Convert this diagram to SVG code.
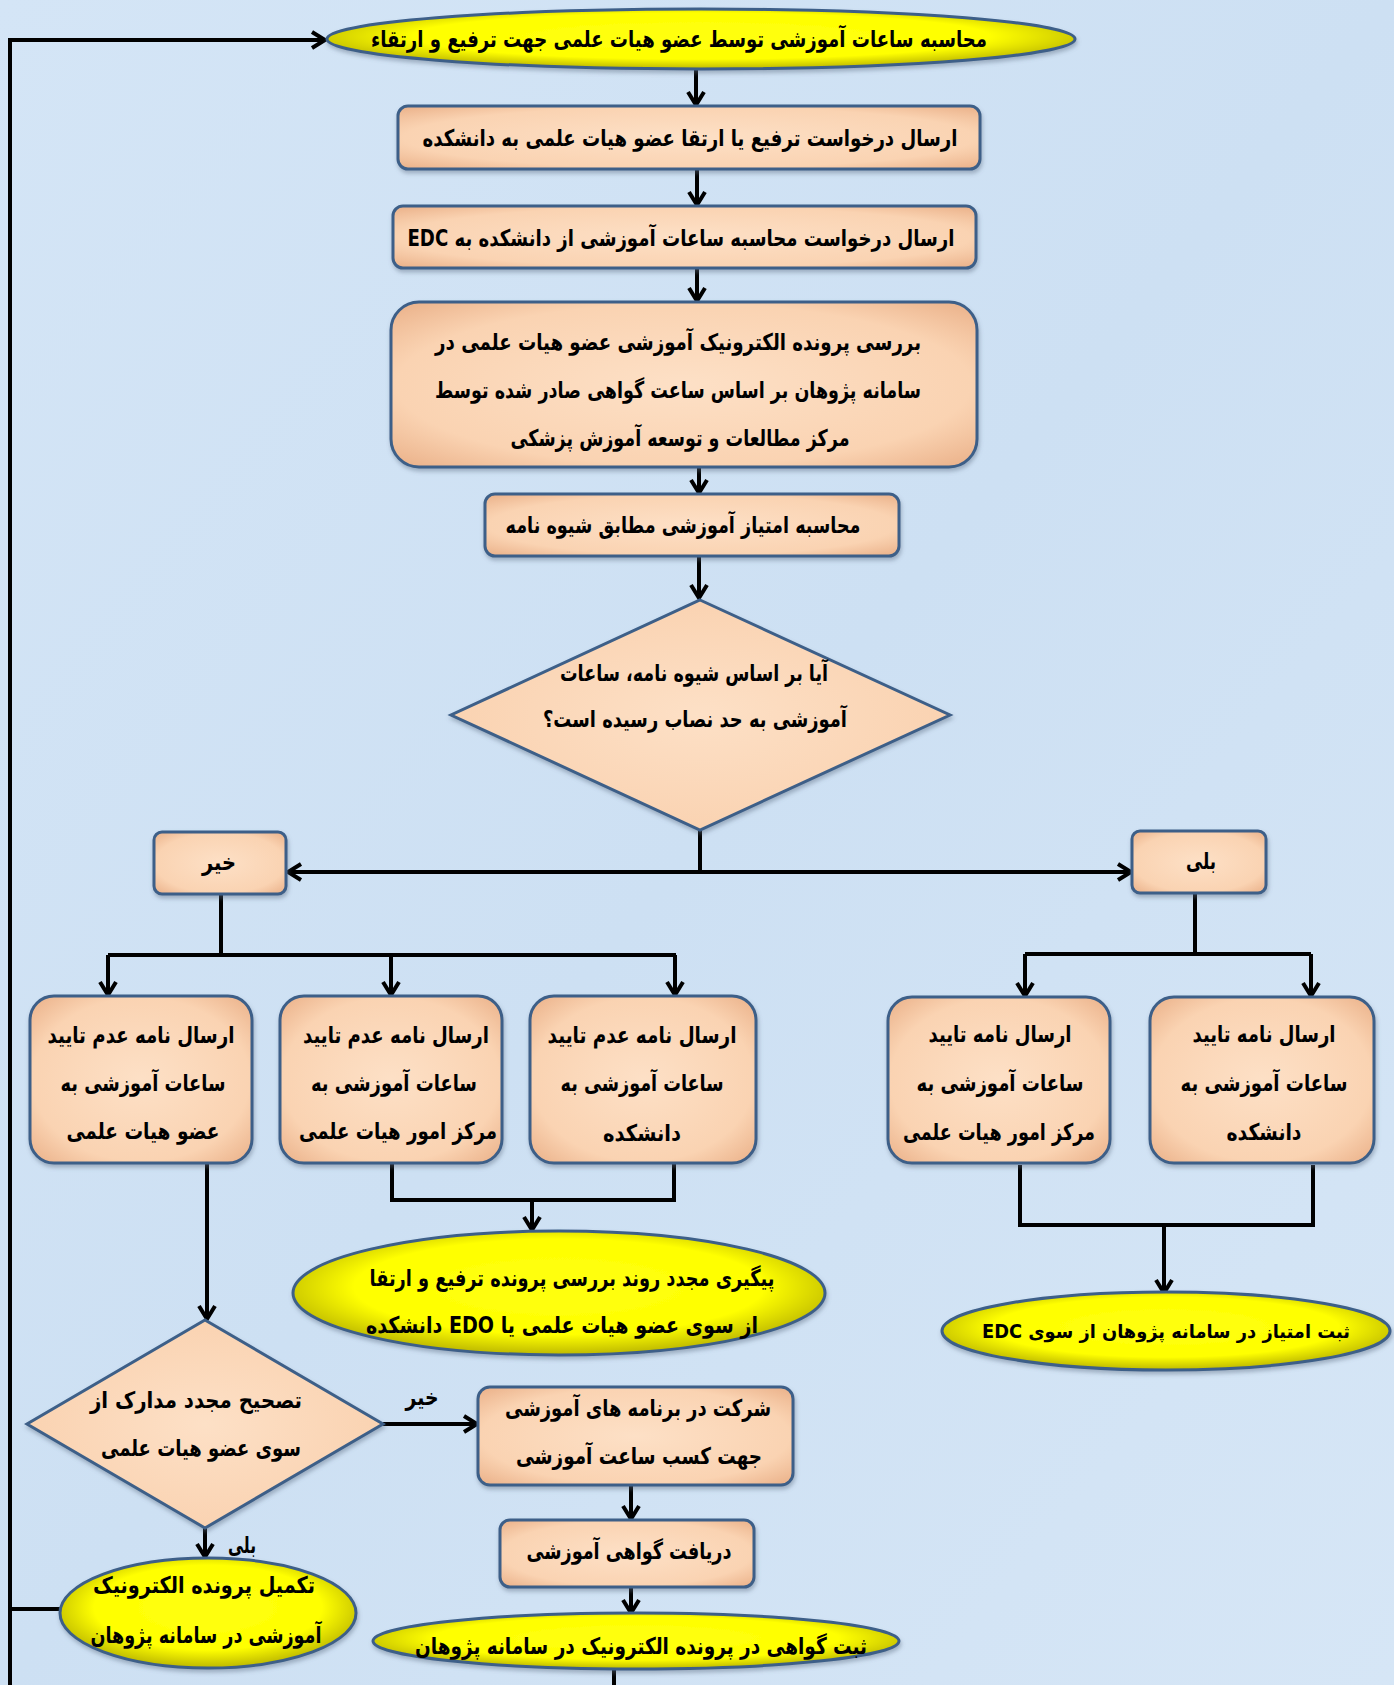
<svg xmlns="http://www.w3.org/2000/svg" width="1394" height="1685" viewBox="0 0 1394 1685">
<defs>
<radialGradient id="boxG" cx="50%" cy="50%" r="70%">
<stop offset="0%" stop-color="#fde0c6"/>
<stop offset="70%" stop-color="#fad3b2"/>
<stop offset="100%" stop-color="#eab088"/>
</radialGradient>
<radialGradient id="ellG" cx="50%" cy="45%" r="55%">
<stop offset="0%" stop-color="#ffff10"/>
<stop offset="70%" stop-color="#ffff00"/>
<stop offset="100%" stop-color="#bdb800"/>
</radialGradient>
<linearGradient id="bgG" x1="0" y1="0" x2="1" y2="1">
<stop offset="0%" stop-color="#d4e5f6"/>
<stop offset="50%" stop-color="#cde0f3"/>
<stop offset="100%" stop-color="#d6e6f6"/>
</linearGradient>
<filter id="sh" x="-10%" y="-10%" width="120%" height="130%">
<feDropShadow dx="1" dy="3" stdDeviation="2" flood-color="#5a6a80" flood-opacity="0.45"/>
</filter>
<marker id="arr" viewBox="0 0 20 20" refX="17" refY="10" markerWidth="20" markerHeight="20" markerUnits="userSpaceOnUse" orient="auto">
<path d="M4,2 L17,10 L4,18" fill="none" stroke="#000" stroke-width="4"/>
</marker>
</defs>
<style>
.box{fill:url(#boxG);stroke:#3d5f88;stroke-width:3;filter:url(#sh)}
.ell{fill:url(#ellG);stroke:#3d5f88;stroke-width:3;filter:url(#sh)}
.t{font-family:"DejaVu Sans",sans-serif;font-size:23px;font-weight:bold;fill:#000;text-anchor:middle;direction:rtl;unicode-bidi:embed}
.c{fill:none;stroke:#000;stroke-width:4}
.a{marker-end:url(#arr)}
</style>
<rect x="0" y="0" width="1394" height="1685" fill="url(#bgG)"/>

<g id="connectors">
<polyline class="c a" points="10,1685 10,40 325,40"/>
<line class="c" x1="60" y1="1609" x2="10" y2="1609"/>
<line class="c" x1="614" y1="1668" x2="614" y2="1685"/>
<line class="c a" x1="696" y1="70" x2="696" y2="105"/>
<line class="c a" x1="697" y1="169" x2="697" y2="205"/>
<line class="c a" x1="697" y1="268" x2="697" y2="301"/>
<line class="c a" x1="699" y1="467" x2="699" y2="493"/>
<line class="c a" x1="699" y1="556" x2="699" y2="598"/>
<line class="c" x1="700" y1="830" x2="700" y2="872"/>
<line class="c a" x1="700" y1="872" x2="288" y2="872"/>
<line class="c a" x1="700" y1="872" x2="1131" y2="872"/>
<line class="c" x1="221" y1="894" x2="221" y2="955"/>
<line class="c" x1="108" y1="955" x2="676" y2="955"/>
<line class="c a" x1="108" y1="955" x2="108" y2="995"/>
<line class="c a" x1="391" y1="955" x2="391" y2="995"/>
<line class="c a" x1="675" y1="955" x2="675" y2="995"/>
<line class="c" x1="1195" y1="893" x2="1195" y2="954"/>
<line class="c" x1="1025" y1="954" x2="1311" y2="954"/>
<line class="c a" x1="1025" y1="954" x2="1025" y2="996"/>
<line class="c a" x1="1311" y1="954" x2="1311" y2="996"/>
<line class="c a" x1="207" y1="1163" x2="207" y2="1319"/>
<polyline class="c" points="392,1163 392,1200 674,1200 674,1163"/>
<line class="c a" x1="532" y1="1200" x2="532" y2="1230"/>
<polyline class="c" points="1020,1165 1020,1225 1313,1225 1313,1165"/>
<line class="c a" x1="1164" y1="1225" x2="1164" y2="1293"/>
<line class="c a" x1="383" y1="1424" x2="477" y2="1424"/>
<line class="c a" x1="205" y1="1528" x2="205" y2="1557"/>
<line class="c a" x1="631" y1="1485" x2="631" y2="1519"/>
<line class="c a" x1="631" y1="1588" x2="631" y2="1613"/>
<text class="t" x="422" y="1405" textLength="33" lengthAdjust="spacingAndGlyphs">خیر</text>
<text class="t" x="242" y="1553" textLength="28" lengthAdjust="spacingAndGlyphs">بلی</text>
</g>

<g id="start">
<ellipse class="ell" cx="701" cy="39" rx="374" ry="30"/>
<text class="t" x="679" y="47" textLength="616" lengthAdjust="spacingAndGlyphs">محاسبه ساعات آموزشی توسط عضو هیات علمی جهت ترفیع و ارتقاء</text>
</g>
<g id="n1">
<rect class="box" x="398" y="106" width="582" height="63" rx="10"/>
<text class="t" x="690" y="146" textLength="535" lengthAdjust="spacingAndGlyphs">ارسال درخواست ترفیع یا ارتقا عضو هیات علمی به دانشکده</text>
</g>
<g id="n2">
<rect class="box" x="393" y="206" width="583" height="62" rx="10"/>
<text class="t" x="681" y="246" textLength="547" lengthAdjust="spacingAndGlyphs">ارسال درخواست محاسبه ساعات آموزشی از دانشکده به EDC</text>
</g>
<g id="n3">
<rect class="box" x="391" y="302" width="586" height="165" rx="28"/>
<text class="t" x="678" y="350" textLength="486" lengthAdjust="spacingAndGlyphs">بررسی پرونده الکترونیک آموزشی عضو هیات علمی در</text>
<text class="t" x="678" y="398" textLength="486" lengthAdjust="spacingAndGlyphs">سامانه پژوهان بر اساس ساعت گواهی صادر شده توسط</text>
<text class="t" x="680" y="446" textLength="339" lengthAdjust="spacingAndGlyphs">مرکز مطالعات و توسعه آموزش پزشکی</text>
</g>
<g id="n4">
<rect class="box" x="485" y="494" width="414" height="62" rx="10"/>
<text class="t" x="683" y="533" textLength="355" lengthAdjust="spacingAndGlyphs">محاسبه امتیاز آموزشی مطابق شیوه نامه</text>
</g>
<g id="d1">
<polygon class="box" points="700,600 950,715 700,830 451,715"/>
<text class="t" x="694" y="681" textLength="268" lengthAdjust="spacingAndGlyphs">آیا بر اساس شیوه نامه، ساعات</text>
<text class="t" x="695" y="727" textLength="304" lengthAdjust="spacingAndGlyphs">آموزشی به حد نصاب رسیده است؟</text>
</g>
<g id="no1">
<rect class="box" x="154" y="832" width="132" height="62" rx="8"/>
<text class="t" x="219" y="870" textLength="34" lengthAdjust="spacingAndGlyphs">خیر</text>
</g>
<g id="yes1">
<rect class="box" x="1132" y="831" width="134" height="62" rx="8"/>
<text class="t" x="1201" y="869" textLength="30" lengthAdjust="spacingAndGlyphs">بلی</text>
</g>
<g id="l1">
<rect class="box" x="30" y="996" width="222" height="167" rx="24"/>
<text class="t" x="141" y="1043" textLength="187" lengthAdjust="spacingAndGlyphs">ارسال نامه عدم تایید</text>
<text class="t" x="143" y="1091" textLength="165" lengthAdjust="spacingAndGlyphs">ساعات آموزشی به</text>
<text class="t" x="143" y="1139" textLength="153" lengthAdjust="spacingAndGlyphs">عضو هیات علمی</text>
</g>
<g id="l2">
<rect class="box" x="280" y="996" width="222" height="167" rx="24"/>
<text class="t" x="396" y="1043" textLength="186" lengthAdjust="spacingAndGlyphs">ارسال نامه عدم تایید</text>
<text class="t" x="394" y="1091" textLength="166" lengthAdjust="spacingAndGlyphs">ساعات آموزشی به</text>
<text class="t" x="398" y="1139" textLength="198" lengthAdjust="spacingAndGlyphs">مرکز امور هیات علمی</text>
</g>
<g id="l3">
<rect class="box" x="530" y="996" width="226" height="167" rx="24"/>
<text class="t" x="642" y="1043" textLength="189" lengthAdjust="spacingAndGlyphs">ارسال نامه عدم تایید</text>
<text class="t" x="642" y="1091" textLength="163" lengthAdjust="spacingAndGlyphs">ساعات آموزشی به</text>
<text class="t" x="642" y="1141" textLength="78" lengthAdjust="spacingAndGlyphs">دانشکده</text>
</g>
<g id="r1">
<rect class="box" x="888" y="997" width="222" height="166" rx="24"/>
<text class="t" x="1000" y="1042" textLength="143" lengthAdjust="spacingAndGlyphs">ارسال نامه تایید</text>
<text class="t" x="1000" y="1091" textLength="167" lengthAdjust="spacingAndGlyphs">ساعات آموزشی به</text>
<text class="t" x="999" y="1140" textLength="192" lengthAdjust="spacingAndGlyphs">مرکز امور هیات علمی</text>
</g>
<g id="r2">
<rect class="box" x="1150" y="997" width="224" height="166" rx="24"/>
<text class="t" x="1264" y="1042" textLength="143" lengthAdjust="spacingAndGlyphs">ارسال نامه تایید</text>
<text class="t" x="1264" y="1091" textLength="167" lengthAdjust="spacingAndGlyphs">ساعات آموزشی به</text>
<text class="t" x="1264" y="1140" textLength="75" lengthAdjust="spacingAndGlyphs">دانشکده</text>
</g>
<g id="e_follow">
<ellipse class="ell" cx="559" cy="1293" rx="266" ry="62"/>
<text class="t" x="572" y="1286" textLength="405" lengthAdjust="spacingAndGlyphs">پیگیری مجدد روند بررسی پرونده ترفیع و ارتقا</text>
<text class="t" x="562" y="1333" textLength="392" lengthAdjust="spacingAndGlyphs">از سوی عضو هیات علمی  یا EDO  دانشکده</text>
</g>
<g id="e_edc">
<ellipse class="ell" cx="1166" cy="1331" rx="224" ry="39"/>
<text class="t" x="1166" y="1338" style="font-size:19px" textLength="368" lengthAdjust="spacingAndGlyphs">ثبت امتیاز در سامانه پژوهان از سوی EDC</text>
</g>
<g id="d2">
<polygon class="box" points="205,1320 383,1424 205,1528 27,1424"/>
<text class="t" x="196" y="1408" textLength="212" lengthAdjust="spacingAndGlyphs">تصحیح مجدد مدارک از</text>
<text class="t" x="201" y="1456" textLength="200" lengthAdjust="spacingAndGlyphs">سوی عضو هیات علمی</text>
</g>
<g id="b1">
<rect class="box" x="478" y="1387" width="315" height="98" rx="12"/>
<text class="t" x="638" y="1416" textLength="266" lengthAdjust="spacingAndGlyphs">شرکت در برنامه های آموزشی</text>
<text class="t" x="639" y="1464" textLength="246" lengthAdjust="spacingAndGlyphs">جهت کسب ساعت آموزشی</text>
</g>
<g id="b2">
<rect class="box" x="500" y="1520" width="254" height="67" rx="10"/>
<text class="t" x="629" y="1559" textLength="205" lengthAdjust="spacingAndGlyphs">دریافت گواهی آموزشی</text>
</g>
<g id="e_cert">
<ellipse class="ell" cx="636" cy="1641" rx="263" ry="28"/>
<text class="t" x="641" y="1654" textLength="452" lengthAdjust="spacingAndGlyphs">ثبت گواهی در پرونده الکترونیک در سامانه پژوهان</text>
</g>
<g id="e_complete">
<ellipse class="ell" cx="208" cy="1613" rx="148" ry="55"/>
<text class="t" x="204" y="1593" textLength="222" lengthAdjust="spacingAndGlyphs">تکمیل پرونده الکترونیک</text>
<text class="t" x="206" y="1643" textLength="231" lengthAdjust="spacingAndGlyphs">آموزشی در سامانه پژوهان</text>
</g>
</svg>
